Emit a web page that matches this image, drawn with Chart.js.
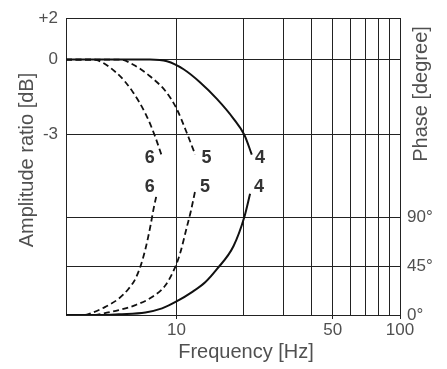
<!DOCTYPE html>
<html>
<head>
<meta charset="utf-8">
<script src="https://cdn.jsdelivr.net/npm/chart.js@4/dist/chart.umd.min.js"></script>
<style>
  body { margin: 0; background: #fff; }
  canvas { display: block; }
</style>
</head>
<body>
<canvas id="filterChart" width="447" height="369"></canvas>
<script>
// frequency in Hz, amplitude in dB, phase in degrees
var amp4 = [[3.2, 0], [7.6, 0], [9.06, -0.07], [10.75, -0.39], [12.76, -0.92], [15.15, -1.58], [17.97, -2.37], [20.12, -3.03], [21.71, -3.82]];
var amp5 = [[3.2, 0], [5.6, 0], [6.38, -0.2], [7.58, -0.66], [9.0, -1.31], [10, -1.97], [11.05, -2.89], [12.12, -3.82]];
var amp6 = [[3.2, 0], [4.2, 0], [5.38, -0.53], [6.38, -1.31], [7.32, -2.24], [7.97, -3.03], [8.55, -3.82]];

var phase4 = [[3.2, 0], [4.9, 0], [5.51, 0.6], [7.25, 2.4], [8.61, 6.1], [10.04, 12.7], [11.72, 21.1], [13.43, 30.2], [15.15, 42.3], [17.97, 63.4], [20.12, 90.6], [21.33, 111.8]];
var phase5 = [[3.2, 0], [4.3, 0], [4.49, 0.6], [5.51, 4.5], [6.54, 9.1], [7.77, 16.6], [8.9, 27.2], [9.87, 44.4], [10.39, 57.4], [11.13, 81.6], [11.57, 95.2], [12.12, 114.8]];
var phase6 = [[3.2, 0], [3.9, 0], [4.12, 1.5], [4.8, 7.5], [5.51, 15.1], [6.1, 24.2], [6.54, 33.3], [6.88, 44.4], [7.25, 60.6], [7.63, 81.6], [7.89, 97.9], [8.16, 111.7]];

var freqTicks = [10, 20, 30, 40, 50, 60, 70, 80, 90, 100];
var freqLabels = ['10', '', '', '', '50', '', '', '', '', '100'];
var ampTicks = [-3, 0, 1.66];
var ampLabels = ['-3', '0', '+2'];
var phaseTicks = [0, 45, 90];
var phaseLabels = ['0°', '45°', '90°'];

var curveNames = ['6', '5', '4'];
var nameFreqAmp = [7.58, 13.6, 23.6];
var nameFreqPhase = [7.58, 13.4, 23.4];
var nameAmpDb = -3.95;
var namePhaseDeg = 118;

var xTitle = 'Frequency [Hz]';
var ampTitle = 'Amplitude ratio [dB]';
var phaseTitle = 'Phase [degree]';

var textColor = '#505050';
var lineColor = '#111';
var gridColor = '#222';
var fontFamily = '"Liberation Sans", Arial, Helvetica, sans-serif';

function toXY(arr) {
    return arr.map(function (p) { return {x: p[0], y: p[1]}; });
}

function curve(data, axis, dashed) {
    return {
        data: toXY(data),
        yAxisID: axis,
        borderColor: lineColor,
        borderWidth: dashed ? 1.8 : 2,
        borderDash: dashed ? [6, 3.5] : [],
        pointRadius: 0,
        fill: false,
        cubicInterpolationMode: 'monotone'
    };
}

var textPlugin = {
    id: 'texts',
    afterDraw: function (chart) {
        var c = chart.ctx;
        var x = chart.scales.x, yA = chart.scales.yA, yP = chart.scales.yP;
        c.save();
        c.fillStyle = textColor;
        c.textAlign = 'center';
        c.textBaseline = 'middle';
        c.font = '20px ' + fontFamily;
        c.fillText(xTitle, 246, 352);

        c.save();
        c.translate(27, 160);
        c.rotate(-Math.PI / 2);
        c.fillText(ampTitle, 0, 0);
        c.restore();

        c.save();
        c.translate(421, 94);
        c.rotate(-Math.PI / 2);
        c.fillText(phaseTitle, 0, 0);
        c.restore();

        c.fillStyle = '#333';
        c.font = 'bold 18px ' + fontFamily;
        for (var i = 0; i < curveNames.length; i++) {
            c.fillText(curveNames[i], x.getPixelForValue(nameFreqAmp[i]), yA.getPixelForValue(nameAmpDb));
            c.fillText(curveNames[i], x.getPixelForValue(nameFreqPhase[i]), yP.getPixelForValue(namePhaseDeg));
        }
        c.restore();
    }
};

var ctx = document.getElementById('filterChart');

var myChart = new Chart(ctx, {
    type: 'line',
    data: {
        datasets: [
            curve(amp4, 'yA', false),
            curve(amp5, 'yA', true),
            curve(amp6, 'yA', true),
            curve(phase4, 'yP', false),
            curve(phase5, 'yP', true),
            curve(phase6, 'yP', true)
        ]
    },
    options: {
        responsive: false,
        animation: false,
        devicePixelRatio: 1,
        layout: {padding: {top: 13, left: 0, right: 0, bottom: 0}},
        plugins: {legend: {display: false}, tooltip: {enabled: false}},
        scales: {
            x: {
                type: 'logarithmic',
                min: 3.2,
                max: 100,
                afterBuildTicks: function (scale) {
                    scale.ticks = freqTicks.map(function (v) { return {value: v}; });
                },
                afterFit: function (scale) { scale.height = 54; },
                border: {display: true, color: gridColor, width: 1},
                grid: {
                    color: gridColor,
                    lineWidth: 1,
                    tickLength: 4,
                    tickColor: function (context) {
                        return freqLabels[context.index] ? gridColor : 'rgba(0,0,0,0)';
                    }
                },
                ticks: {
                    autoSkip: false,
                    maxRotation: 0,
                    padding: 1,
                    color: textColor,
                    font: {size: 17, family: fontFamily},
                    callback: function (value, index) { return freqLabels[index]; }
                }
            },
            yA: {
                type: 'linear',
                position: 'left',
                min: -10.26,
                max: 1.66,
                afterBuildTicks: function (scale) {
                    scale.ticks = ampTicks.map(function (v) { return {value: v}; });
                },
                afterFit: function (scale) { scale.width = 66; },
                border: {display: true, color: gridColor, width: 1},
                grid: {color: gridColor, lineWidth: 1, drawTicks: false},
                ticks: {
                    padding: 8,
                    color: textColor,
                    font: {size: 17, family: fontFamily},
                    callback: function (value, index) { return ampLabels[index]; }
                }
            },
            yP: {
                type: 'linear',
                position: 'right',
                min: 0,
                max: 273.8,
                afterBuildTicks: function (scale) {
                    scale.ticks = phaseTicks.map(function (v) { return {value: v}; });
                },
                afterFit: function (scale) { scale.width = 47; },
                border: {display: true, color: gridColor, width: 1},
                grid: {color: gridColor, lineWidth: 1, drawTicks: false},
                ticks: {
                    padding: 7,
                    color: textColor,
                    font: {size: 17, family: fontFamily},
                    callback: function (value, index) { return phaseLabels[index]; }
                }
            }
        }
    },
    plugins: [textPlugin]
});
</script>
</body>
</html>
